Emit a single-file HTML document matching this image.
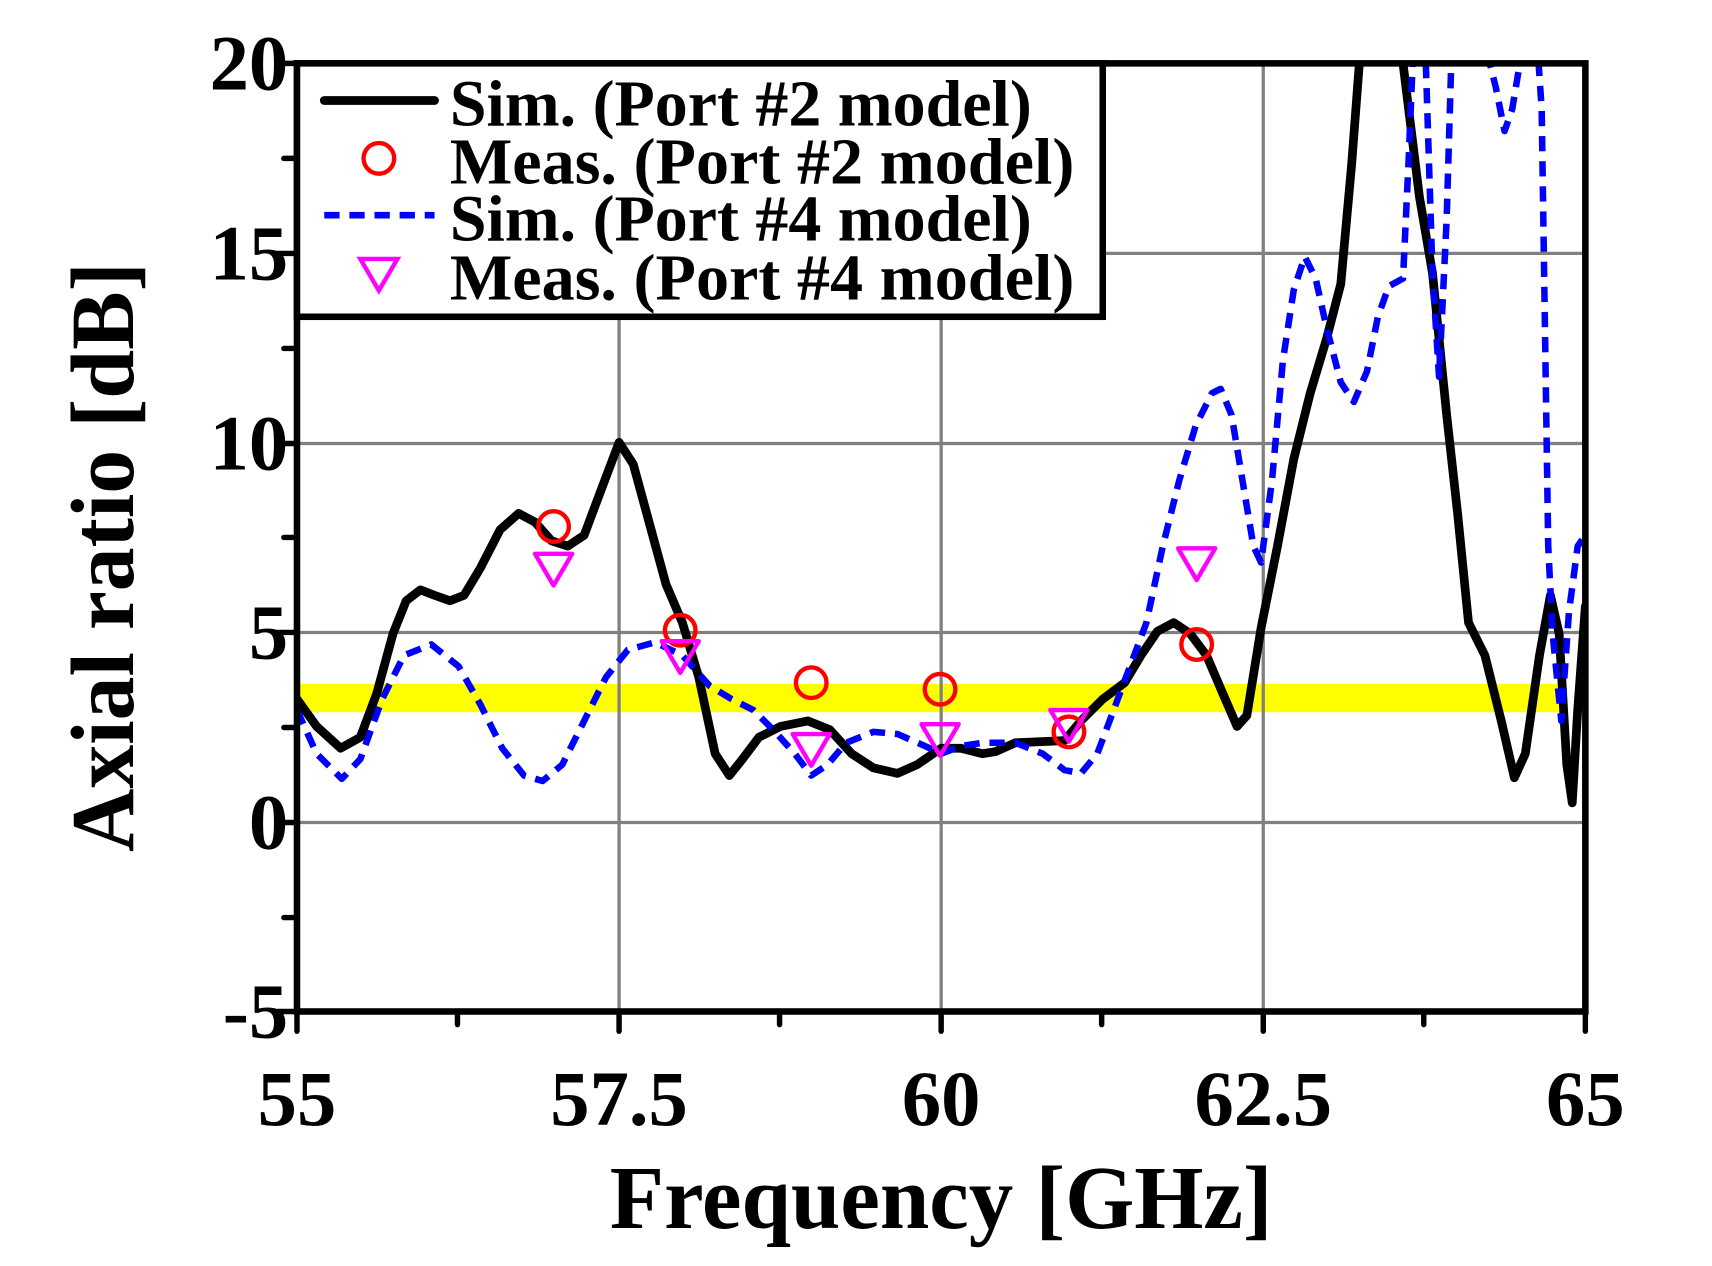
<!DOCTYPE html>
<html><head><style>html,body{margin:0;padding:0;background:#fff}svg{display:block}</style></head>
<body>
<svg width="1712" height="1266" viewBox="0 0 1568 1159" preserveAspectRatio="none" xmlns="http://www.w3.org/2000/svg">
<defs><clipPath id="c"><rect x="272" y="58" width="1180" height="868"/></clipPath></defs>
<rect x="272" y="626" width="1158" height="26" fill="#ffff00"/>
<g stroke="#808080" stroke-width="3">
<line x1="567" y1="58" x2="567" y2="926"/><line x1="862" y1="58" x2="862" y2="926"/><line x1="1157" y1="58" x2="1157" y2="926"/>
<line x1="272" y1="232" x2="1452" y2="232"/><line x1="272" y1="406" x2="1452" y2="406"/><line x1="272" y1="579" x2="1452" y2="579"/><line x1="272" y1="753" x2="1452" y2="753"/>
</g>
<g clip-path="url(#c)" fill="none" stroke-linejoin="round" stroke-linecap="round">
<polyline stroke="#000" stroke-width="8" points="272,640 290,665 312,685 330,675 345,635 360,580 372,550 385,540 398,545 412,550 425,545 440,520 458,485 475,470 490,478 505,495 520,500 535,490 550,450 567,405 580,425 595,480 610,535 625,570 640,620 655,690 668,710 680,695 695,675 715,665 740,660 760,668 780,690 800,703 822,708 840,700 862,685 880,685 900,690 912,688 930,680 975,678 990,660 1010,640 1030,625 1045,600 1060,578 1075,570 1090,580 1105,600 1120,635 1133,665 1142,655 1155,575 1170,500 1185,420 1200,360 1215,310 1228,260 1238,150 1245,58 1250,20 1280,20 1285,58 1300,180 1312,250 1325,380 1335,470 1345,570 1360,600 1375,660 1387,712 1397,690 1410,600 1420,545 1428,580 1435,700 1440,735 1445,650 1452,555"/>
<polyline stroke="#0000ff" stroke-width="6" stroke-dasharray="14,9" stroke-linecap="butt" points="272,650 290,690 313,713 330,695 350,640 370,600 395,590 420,610 440,645 460,685 480,710 497,715 515,700 535,660 555,620 575,595 600,588 625,600 650,628 670,640 690,650 710,670 728,690 743,710 758,700 775,680 800,670 822,672 845,682 862,690 880,683 900,680 930,680 955,690 975,705 990,708 1005,690 1020,650 1035,610 1050,570 1065,500 1080,440 1095,390 1110,360 1118,356 1128,380 1138,440 1148,500 1155,515 1165,440 1175,330 1185,265 1195,235 1205,255 1215,300 1228,350 1240,368 1252,340 1262,290 1272,262 1285,255 1290,150 1295,30 1305,30 1312,250 1318,345 1325,200 1330,30 1340,30 1360,40 1370,80 1378,120 1385,100 1395,40 1408,40 1412,100 1415,300 1418,500 1422,580 1430,660 1437,560 1445,500 1452,490"/>
</g>
<g fill="none" stroke="#ff0000" stroke-width="4">
<circle cx="507" cy="482" r="14"/><circle cx="623" cy="577" r="14"/><circle cx="743" cy="625" r="14"/><circle cx="861" cy="631" r="14"/><circle cx="979" cy="670" r="14"/><circle cx="1096" cy="590" r="14"/>
</g>
<g fill="none" stroke="#ff00ff" stroke-width="4" stroke-linejoin="round">
<polygon points="490,507 524,507 507,536"/><polygon points="606,587 640,587 623,616"/><polygon points="726,672 760,672 743,701"/><polygon points="844,663 878,663 861,692"/><polygon points="962,650 996,650 979,679"/><polygon points="1079,502 1113,502 1096,531"/>
</g>
<rect x="272" y="58" width="1180" height="868" fill="none" stroke="#000" stroke-width="6"/>
<g stroke="#000" stroke-width="5" stroke-linecap="round">
<line x1="272" y1="926" x2="272" y2="944"/><line x1="567" y1="926" x2="567" y2="944"/><line x1="862" y1="926" x2="862" y2="944"/><line x1="1157" y1="926" x2="1157" y2="944"/><line x1="1452" y1="926" x2="1452" y2="944"/>
<line x1="419" y1="926" x2="419" y2="938"/><line x1="714" y1="926" x2="714" y2="938"/><line x1="1009" y1="926" x2="1009" y2="938"/><line x1="1304" y1="926" x2="1304" y2="938"/>
<line x1="260" y1="145" x2="272" y2="145"/><line x1="260" y1="319" x2="272" y2="319"/><line x1="260" y1="492" x2="272" y2="492"/><line x1="260" y1="666" x2="272" y2="666"/><line x1="260" y1="840" x2="272" y2="840"/>
<line x1="254" y1="58" x2="272" y2="58"/><line x1="254" y1="232" x2="272" y2="232"/><line x1="254" y1="406" x2="272" y2="406"/><line x1="254" y1="579" x2="272" y2="579"/><line x1="254" y1="753" x2="272" y2="753"/><line x1="254" y1="926" x2="272" y2="926"/>
</g>
<rect x="272" y="58" width="738" height="232" fill="#fff" stroke="#000" stroke-width="6"/>
<line x1="297" y1="92" x2="398" y2="92" stroke="#000" stroke-width="8" stroke-linecap="round"/>
<circle cx="347" cy="145" r="14" fill="none" stroke="#ff0000" stroke-width="4"/>
<line x1="297" y1="197" x2="398" y2="197" stroke="#0000ff" stroke-width="6" stroke-dasharray="14,9"/>
<polygon points="330,237 364,237 347,266" fill="none" stroke="#ff00ff" stroke-width="4"/>
<g font-family="Liberation Serif, serif" font-weight="bold" fill="#000">
<g font-size="60" lengthAdjust="spacingAndGlyphs">
<text x="412" y="115" textLength="533" lengthAdjust="spacingAndGlyphs">Sim. (Port #2 model)</text>
<text x="412" y="168" textLength="572" lengthAdjust="spacingAndGlyphs">Meas. (Port #2 model)</text>
<text x="412" y="220" textLength="533" lengthAdjust="spacingAndGlyphs">Sim. (Port #4 model)</text>
<text x="412" y="274" textLength="572" lengthAdjust="spacingAndGlyphs">Meas. (Port #4 model)</text>
</g>
<g font-size="72" text-anchor="end">
<text x="264" y="82">20</text><text x="264" y="256">15</text><text x="264" y="430">10</text><text x="264" y="603">5</text><text x="264" y="777">0</text><text x="264" y="950">-5</text>
</g>
<g font-size="72" text-anchor="middle">
<text x="272" y="1030">55</text><text x="567" y="1030">57.5</text><text x="862" y="1030">60</text><text x="1157" y="1030">62.5</text><text x="1452" y="1030">65</text>
</g>
<text x="862" y="1124" font-size="82" text-anchor="middle" textLength="607" lengthAdjust="spacingAndGlyphs">Frequency [GHz]</text>
<text transform="translate(122,510) rotate(-90)" font-size="82" text-anchor="middle" textLength="540" lengthAdjust="spacingAndGlyphs">Axial ratio [dB]</text>
</g>
</svg>
</body></html>
